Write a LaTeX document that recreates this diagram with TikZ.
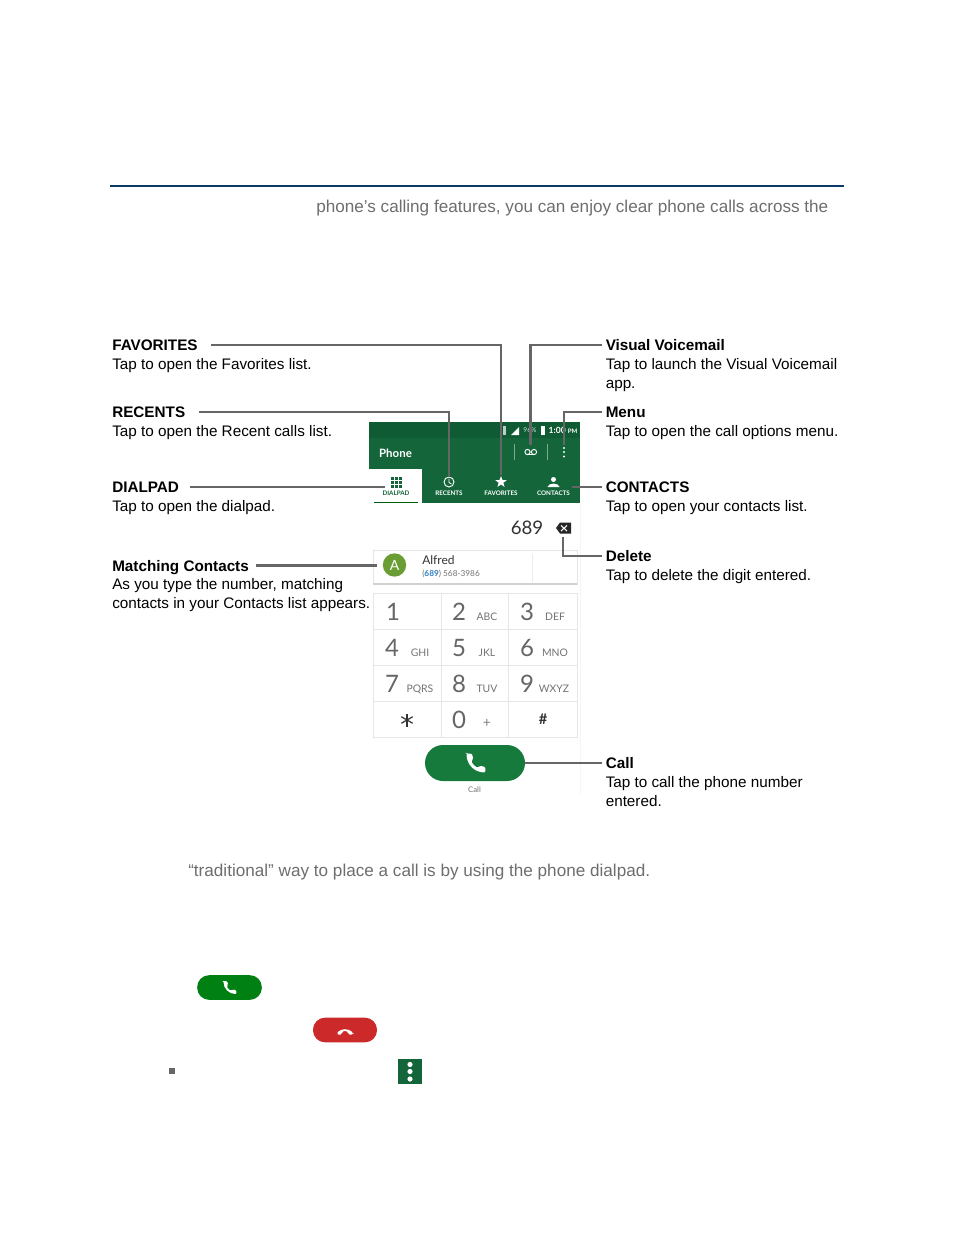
\documentclass[tikz,border=0pt]{standalone}
\usepackage{fontspec}
\setmainfont{Liberation Sans}
\newfontfamily\phonefont{Lato}
\usetikzlibrary{shapes.geometric}
\definecolor{barGreen}{HTML}{14653A}
\definecolor{statusGreen}{HTML}{0F5B33}
\definecolor{callGreen}{HTML}{157A3C}
\definecolor{dialGreen}{HTML}{008012}
\definecolor{badgeGreen}{HTML}{6A9E35}
\definecolor{endRed}{HTML}{CC2A2A}
\definecolor{ruleBlue}{HTML}{0B3A66}
\definecolor{leadGray}{HTML}{666666}
\definecolor{introGray}{HTML}{6E6E6E}
\definecolor{cellGray}{HTML}{E6E6E6}
\definecolor{linkBlue}{HTML}{2F7DC0}
\tikzset{
  heading/.style={anchor=west,inner sep=0pt,text height=8.4pt,text depth=0pt,font=\fontsize{11.45}{14}\selectfont\bfseries},
  body/.style={anchor=north west,inner sep=0pt,align=left,font=\fontsize{11.45}{14.05}\selectfont},
  intro/.style={anchor=base west,inner sep=0pt,text=introGray,font=\fontsize{12.85}{15}\selectfont},
  lead/.style={draw=leadGray,line width=2pt},
  icon/.style={inner sep=0pt,minimum width=#1,minimum height=#1},
  tabtext/.style={inner sep=0pt,text=white,font=\phonefont\fontsize{4.7}{5}\selectfont\bfseries},
  pill/.style={rounded corners=#1,inner sep=0pt},
  handset/.pic={\fill[white,rounded corners=.9]
    (-9,-9)--(-4,-9)--(-2.6,-4.2)--(-4.4,-1.6)..controls(-3.4,.8)and(-.8,3.4)..(1.6,4.4)
    --(4.2,2.6)--(9,4)--(9,9)..controls(-1.4,9)and(-9,1.4)..cycle;}
}
\begin{document}
\begin{tikzpicture}[x=0.75pt,y=-0.75pt]
\useasboundingbox(0,0)rectangle(954,1235);
\fill[white](0,0)rectangle(954,1235);
% page text
\node[inner sep=0pt,fill=ruleBlue,minimum width=550.5pt,minimum height=1.5pt](TopRule)at(477,186){};
\node[intro](IntroTop)at(316,212){phone’s calling features, you can enjoy clear phone calls across the};
\node[intro](IntroMid)at(188,876){“traditional” way to place a call is by using the phone dialpad.};
% phone frame
\fill[barGreen](369,422)rectangle(580,503);
\fill[statusGreen](369,422)rectangle(580,438);
\fill[white](369,469)rectangle(422,503);
\draw[black!4,line width=.6pt](580,503)--(580,795);
\draw[dialGreen!70!black,line width=.7pt](374,502)--(418,502);
\node[inner sep=0pt,text=white,font=\phonefont\fontsize{8.6}{10}\selectfont\bfseries](PhoneTitle)at(395.5,453){Phone};
\node[inner sep=0pt,text=white,font=\phonefont\fontsize{6.4}{8}\selectfont\bfseries](ClockText)at(563,430.5){1:00 \fontsize{4.6}{6}\selectfont PM};
\node[inner sep=0pt,text=white!80!barGreen,font=\phonefont\fontsize{5}{6}\selectfont](BatteryText)at(530,430.5){96\%};
\fill[white](540.5,425.5)rectangle(545,434.5);
\fill[white](519,435)--(519,427)--(511,435)--cycle;
\fill[white!70!barGreen](503,426)rectangle(506,435);
\draw[white!45!barGreen,line width=.5pt](514,444)--(514,460);
\draw[white!45!barGreen,line width=.5pt](547,444)--(547,460);
% toolbar and tab icons
\node[icon=10.5pt](VoicemailIcon)at(530.5,452){};
\draw[white,line width=.7pt](527.5,452)circle(2.6)(534,452)circle(2.6);
\draw[white,line width=.7pt](527.5,454.6)--(534,454.6);
\node[icon=12pt](MenuIcon)at(564,453){};
\foreach \dotY in {448,452,456.5}
  \fill[white](564,\dotY)circle(1.2);
\node[icon=16pt](DialIcon)at(396,481){};
\foreach \gridX in {391,395,399}
  \foreach \gridY in {476.5,480.5,484.5}
    \fill[barGreen](\gridX,\gridY)rectangle +(3.3,3.3);
\node[circle,draw=white,line width=.7pt,inner sep=0pt,minimum size=7.5pt](ClockIcon)at(449,482){};
\draw[white,line width=.6pt](449,478.5)--(449,482.5)--(451.5,484);
\node[star,star points=5,star point ratio=2.4,fill=white,inner sep=0pt,minimum size=9pt](StarIcon)at(501,482){};
\fill[white](553.5,479.5)circle(2.5);
\fill[white](547.5,487)..controls(548,482.5)and(559,482.5)..(559.5,487)--cycle;
\coordinate(ContactsEnd)at(572,487);
\node[tabtext,text=barGreen](DialLabel)at(396,493.5){DIALPAD};
\node[tabtext](RecentLabel)at(449,493.5){RECENTS};
\node[tabtext](FavLabel)at(501,493.5){FAVORITES};
\node[tabtext](ContactLabel)at(553.5,493.5){CONTACTS};
% number row
\node[inner sep=0pt,text=black!80,font=\phonefont\fontsize{14}{16}\selectfont](Number)at(527,528){689};
\fill[black!85](556,528)--(560,522.5)--(571,522.5)--(571,533.5)--(560,533.5)--cycle;
\node[icon=10pt](DeleteIcon)at(563,530){};
\draw[white,line width=.8pt](561,525.5)--(567,531)(567,525.5)--(561,531);
% matching card
\draw[black!10,line width=.6pt](373,550)rectangle(577,584);
\draw[black!18,line width=.8pt](373,584)--(577,584);
\draw[black!7,line width=.6pt](532,554)--(532,582);
\node[circle,fill=badgeGreen,inner sep=0pt,minimum size=17.5pt,text=white,font=\phonefont\fontsize{10.5}{12}\selectfont](AlfredBadge)at(394.5,565){A};
\node[anchor=west,inner sep=0pt,text=black!80,font=\phonefont\fontsize{9}{10}\selectfont](AlfredName)at(422,560){Alfred};
\node[anchor=west,inner sep=0pt,text=black!55,font=\phonefont\fontsize{6.2}{7}\selectfont](AlfredPhone)at(422,574){(\textcolor{linkBlue}{\bfseries 689}) 568-3986};
% keypad
\draw[cellGray,line width=.6pt](373,593)rectangle(577,737);
\foreach \lineY in {629,665,701}
  \draw[cellGray,line width=.6pt](373,\lineY)--(577,\lineY);
\foreach \lineX in {441,508}
  \draw[cellGray,line width=.6pt](\lineX,593)--(\lineX,737);
\foreach \keyX/\keyY/\digit in {393/612/1,459/612/2,527/612/3,392/648/4,459/648/5,527/648/6,392/684/7,459/684/8,527/684/9,459/720/0}
  \node[inner sep=0pt,text=black!60,font=\phonefont\fontsize{18}{20}\selectfont](Key\digit)at(\keyX,\keyY){\digit};
\foreach \subX/\subY/\subText in {487/617/ABC,555/617/DEF,420/653/GHI,487/653/JKL,555/653/MNO,420/689/PQRS,487/689/TUV,554/689/WXYZ}
  \node[inner sep=0pt,text=black!55,font=\phonefont\fontsize{7.8}{9}\selectfont](Sub\subText)at(\subX,\subY){\subText};
\node[inner sep=0pt,text=black!50,font=\phonefont\fontsize{10.5}{12}\selectfont](SubPlus)at(487,723.5){+};
\node[icon=10pt](KeyStar)at(407,720){};
\foreach \armAngle in {90,30,150}
  \draw[black!80,line width=.9pt](KeyStar.center)+(\armAngle:6.5)--+(\armAngle+180:6.5);
\node[inner sep=0pt,text=black!80,font=\phonefont\fontsize{11}{12}\selectfont\bfseries](KeyHash)at(543,719){\#};
% call button
\node[pill=13.5pt,fill=callGreen,minimum width=75pt,minimum height=27pt](CallButton)at(475,763){};
\pic[scale=1.05]at(476,763){handset};
\node[inner sep=0pt,text=black!55,font=\phonefont\fontsize{5.8}{7}\selectfont](CallLabel)at(474.5,789.5){Call};
% left labels
\node[heading](FavHead)at(112,345){FAVORITES};
\node[body](FavBody)at(112,358.2){Tap to open the Favorites list.};
\node[heading](RecentHead)at(112,412){RECENTS};
\node[body](RecentBody)at(112,425.2){Tap to open the Recent calls list.};
\node[heading](DialHead)at(112,487){DIALPAD};
\node[body](DialBody)at(112,500.2){Tap to open the dialpad.};
\node[heading](MatchHead)at(112,565.5){Matching Contacts};
\node[body](MatchBody)at(112,578.5){As you type the number, matching\\contacts in your Contacts list appears.};
% right labels
\node[heading](VoiceHead)at(605.5,345){Visual Voicemail};
\node[body](VoiceBody)at(605.5,358.2){Tap to launch the Visual Voicemail\\app.};
\node[heading](MenuHead)at(605.5,412){Menu};
\node[body](MenuBody)at(605.5,425.2){Tap to open the call options menu.};
\node[heading](ContactHead)at(605.5,487){CONTACTS};
\node[body](ContactBody)at(605.5,500.2){Tap to open your contacts list.};
\node[heading](DeleteHead)at(605.5,556){Delete};
\node[body](DeleteBody)at(605.5,569.2){Tap to delete the digit entered.};
\node[heading](CallHead)at(605.5,763){Call};
\node[body](CallBody)at(605.5,776){Tap to call the phone number\\entered.};
% leaders
\draw[lead,shorten <=10pt](FavHead.east)-|(StarIcon.north);
\draw[lead,shorten <=10pt](RecentHead.east)-|(ClockIcon.north);
\draw[lead,shorten <=8pt](DialHead.east)--(DialHead.east-|DialIcon.west);
\draw[lead,shorten <=5pt,shorten >=4pt](MatchHead.east)--(MatchHead.east-|AlfredBadge.west);
\draw[lead,shorten <=3pt](VoiceHead.west)-|(VoicemailIcon.north);
\draw[lead,shorten <=3pt](MenuHead.west)-|(MenuIcon.north);
\draw[lead,shorten <=3pt](ContactHead.west)--(ContactsEnd);
\draw[lead,shorten <=3pt](DeleteHead.west)-|(DeleteIcon.south);
\draw[lead,shorten <=3pt](CallHead.west)--(CallButton.east);
% lower page icons
\node[pill=9pt,fill=dialGreen,minimum width=48.5pt,minimum height=18.5pt](DialKey)at(229.5,987.5){};
\pic[scale=.72]at(230,987.5){handset};
\node[pill=9pt,fill=endRed,minimum width=48pt,minimum height=18.5pt](EndKey)at(345,1030){};
\pic[scale=.65,rotate=-135]at(345,1033){handset};
\node[inner sep=0pt,fill=leadGray,minimum size=3.8pt](BulletMark)at(172,1071){};
\node[inner sep=0pt,fill=barGreen,minimum width=18pt,minimum height=19pt](OptionsKey)at(410,1071.5){};
\foreach \dotY in {1064.5,1071.5,1079}
  \fill[white](410,\dotY)circle(2.6);
\end{tikzpicture}
\end{document}
